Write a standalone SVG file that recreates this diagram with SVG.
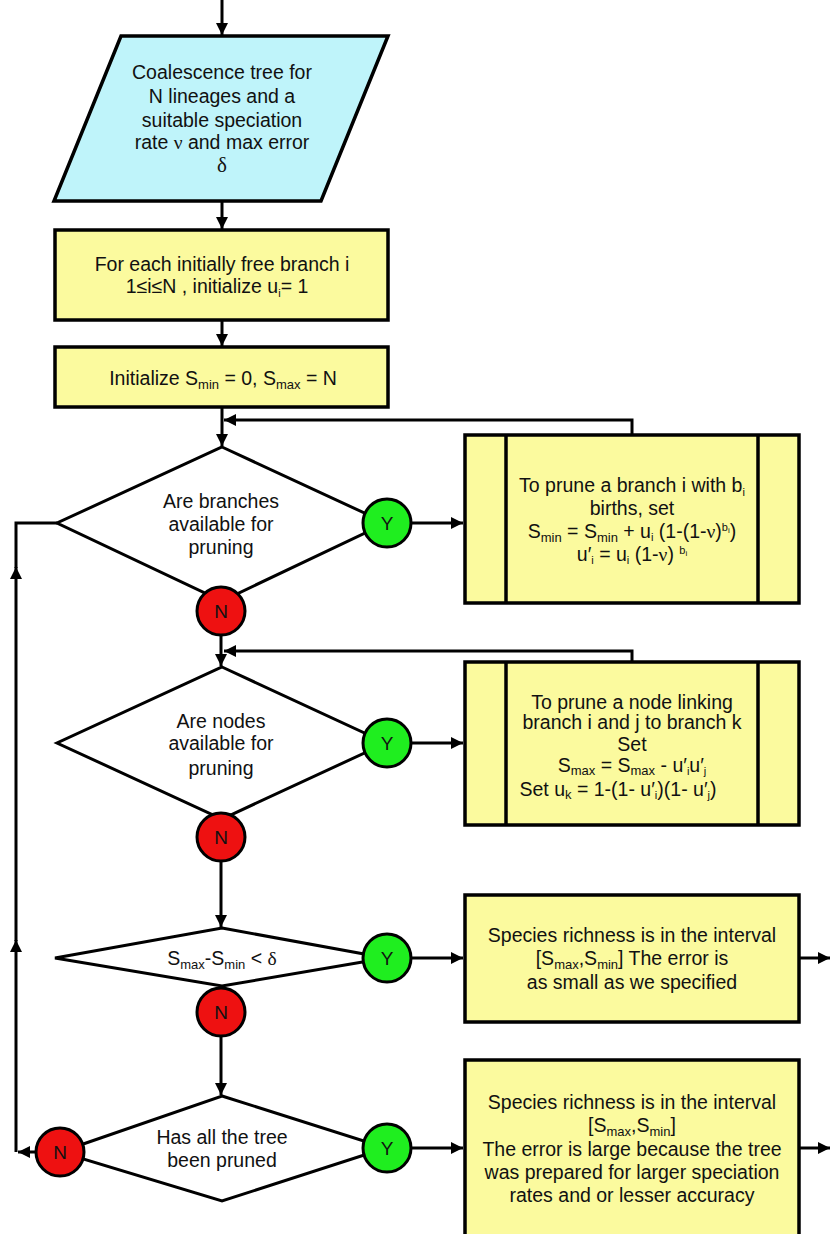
<svg xmlns="http://www.w3.org/2000/svg" width="830" height="1234" viewBox="0 0 830 1234">
<defs>
<marker id="ah" markerUnits="userSpaceOnUse" markerWidth="12" markerHeight="12" refX="12" refY="6" orient="auto">
<path d="M0,0 L12,6 L0,12 z" fill="#000"/>
</marker>
<style>
.t{font-family:"Liberation Sans",Arial,sans-serif;font-size:19.5px;fill:#111;text-anchor:middle}
.g{font-family:"Liberation Serif","Times New Roman",serif}
.s{font-size:13px}
.ss{font-size:11px}
.sss{font-size:8px}
.box{fill:#fbfa9e;stroke:#000;stroke-width:3.5}
.inp{fill:#bff4fa;stroke:#000;stroke-width:3.5}
.dia{fill:#fff;stroke:#000;stroke-width:3}
.yes{fill:#1fee1f;stroke:#000;stroke-width:3}
.no{fill:#ee1111;stroke:#000;stroke-width:3}
.ln{fill:none;stroke:#000;stroke-width:3}
.lbl{font-family:"Liberation Sans",Arial,sans-serif;font-size:19px;fill:#111;text-anchor:middle}
</style>
</defs>
<rect width="830" height="1234" fill="#fff"/>

<g id="connectors">
<path class="ln" d="M222,0 V35" marker-end="url(#ah)"/>
<path class="ln" d="M222,201 V229" marker-end="url(#ah)"/>
<path class="ln" d="M222,320 V346" marker-end="url(#ah)"/>
<path class="ln" d="M222,407 V446" marker-end="url(#ah)"/>
<path class="ln" d="M632,435 V420 H224" marker-end="url(#ah)"/>
<path class="ln" d="M411,523 H463" marker-end="url(#ah)"/>
<path class="ln" d="M221,636 V666" marker-end="url(#ah)"/>
<path class="ln" d="M632,662 V651 H224" marker-end="url(#ah)"/>
<path class="ln" d="M411,743 H463" marker-end="url(#ah)"/>
<path class="ln" d="M221,861 V927" marker-end="url(#ah)"/>
<path class="ln" d="M411,958 H463" marker-end="url(#ah)"/>
<path class="ln" d="M799,958 H830" marker-end="url(#ah)"/>
<path class="ln" d="M221,1036 V1095" marker-end="url(#ah)"/>
<path class="ln" d="M411,1148 H463" marker-end="url(#ah)"/>
<path class="ln" d="M799,1148 H830" marker-end="url(#ah)"/>
<path class="ln" d="M36,1152 H18" marker-end="url(#ah)"/>
<path class="ln" d="M16,1152 V940" marker-end="url(#ah)"/>
<path class="ln" d="M16,941 V567" marker-end="url(#ah)"/>
<path class="ln" d="M16,568 V523 H57"/>
</g>

<g id="input">
<polygon class="inp" points="121,36 388,36 321,201 54,201"/>
<text class="t" x="222" y="79">Coalescence tree for</text>
<text class="t" x="222" y="103">N lineages and a</text>
<text class="t" x="222" y="127">suitable speciation</text>
<text class="t" x="222" y="149">rate <tspan class="g">ν</tspan> and max error</text>
<text class="t g" x="222" y="172" style="font-size:21px">δ</text>
</g>

<g id="init-u">
<rect class="box" x="55" y="230" width="333" height="90"/>
<text class="t" x="222" y="271">For each initially free branch i</text>
<text class="t" x="217" y="293">1≤i≤N ,  initialize u<tspan class="ss" dy="4">i</tspan><tspan dy="-4">= 1</tspan></text>
</g>

<g id="init-s">
<rect class="box" x="55" y="347" width="333" height="60"/>
<text class="t" x="223" y="385">Initialize S<tspan class="s" dy="4">min</tspan><tspan dy="-4"> = 0, S</tspan><tspan class="s" dy="4">max</tspan><tspan dy="-4"> = N</tspan></text>
</g>

<g id="dec-branches">
<polygon class="dia" points="222,447 386,523 222,601 57,523"/>
<text class="t" x="221" y="508">Are branches</text>
<text class="t" x="221" y="531">available for</text>
<text class="t" x="221" y="554">pruning</text>
</g>

<g id="prune-branch">
<rect class="box" x="465" y="435" width="334" height="168"/>
<line class="ln" x1="506" y1="435" x2="506" y2="603" style="stroke-width:3.5"/>
<line class="ln" x1="758" y1="435" x2="758" y2="603" style="stroke-width:3.5"/>
<text class="t" x="632" y="492">To prune a branch i with b<tspan class="ss" dy="4">i</tspan></text>
<text class="t" x="632" y="515">births, set</text>
<text class="t" x="632" y="538">S<tspan class="s" dy="4">min</tspan><tspan dy="-4"> = S</tspan><tspan class="s" dy="4">min</tspan><tspan dy="-4"> + u</tspan><tspan class="ss" dy="3">i</tspan><tspan dy="-3"> (1-(1-</tspan><tspan class="g">ν</tspan>)<tspan class="ss" dy="-7">b</tspan><tspan class="sss" dy="2">i</tspan><tspan dy="5">)</tspan></text>
<text class="t" x="632" y="561">u′<tspan class="ss" dy="3">i</tspan><tspan dy="-3"> = u</tspan><tspan class="ss" dy="3">i</tspan><tspan dy="-3"> (1-</tspan><tspan class="g">ν</tspan>) <tspan class="ss" dy="-7">b</tspan><tspan class="sss" dy="2">i</tspan></text>
</g>

<g id="dec-nodes">
<polygon class="dia" points="222,667 386,743 222,819 57,743"/>
<text class="t" x="221" y="728">Are nodes</text>
<text class="t" x="221" y="750">available for</text>
<text class="t" x="221" y="775">pruning</text>
</g>

<g id="prune-node">
<rect class="box" x="465" y="662" width="334" height="163"/>
<line class="ln" x1="506" y1="662" x2="506" y2="825" style="stroke-width:3.5"/>
<line class="ln" x1="758" y1="662" x2="758" y2="825" style="stroke-width:3.5"/>
<text class="t" x="632" y="709">To prune a node linking</text>
<text class="t" x="632" y="729">branch i and j to branch k</text>
<text class="t" x="632" y="751">Set</text>
<text class="t" x="632" y="772">S<tspan class="s" dy="3">max</tspan><tspan dy="-3"> = S</tspan><tspan class="s" dy="3">max</tspan><tspan dy="-3"> - u′</tspan><tspan class="ss" dy="3">i</tspan><tspan dy="-3">u′</tspan><tspan class="ss" dy="3">j</tspan></text>
<text class="t" x="618" y="796">Set u<tspan class="s" dy="3">k</tspan><tspan dy="-3"> = 1-(1- u′</tspan><tspan class="ss" dy="3">i</tspan><tspan dy="-3">)(1- u′</tspan><tspan class="ss" dy="3">j</tspan><tspan dy="-3">)</tspan></text>
</g>

<g id="dec-error">
<polygon class="dia" points="222,928 386,958 222,986 55,958"/>
<text class="t" x="222" y="965">S<tspan class="s" dy="4">max</tspan><tspan dy="-4">-S</tspan><tspan class="s" dy="4">min</tspan><tspan dy="-4"> &lt; </tspan><tspan class="g">δ</tspan></text>
</g>

<g id="result-small">
<rect class="box" x="465" y="895" width="334" height="127"/>
<text class="t" x="632" y="942">Species richness is in the interval</text>
<text class="t" x="632" y="965">[S<tspan class="s" dy="4">max</tspan><tspan dy="-4">,S</tspan><tspan class="s" dy="4">min</tspan><tspan dy="-4">] The error is</tspan></text>
<text class="t" x="632" y="989">as small as we specified</text>
</g>

<g id="dec-tree">
<polygon class="dia" points="222,1096 386,1148 222,1201 60,1152"/>
<text class="t" x="222" y="1144">Has all the tree</text>
<text class="t" x="222" y="1167">been pruned</text>
</g>

<g id="result-large">
<rect class="box" x="465" y="1060" width="334" height="190"/>
<text class="t" x="632" y="1109">Species richness is in the interval</text>
<text class="t" x="632" y="1132">[S<tspan class="s" dy="4">max</tspan><tspan dy="-4">,S</tspan><tspan class="s" dy="4">min</tspan><tspan dy="-4">]</tspan></text>
<text class="t" x="632" y="1156">The error is large because the tree</text>
<text class="t" x="632" y="1179">was prepared for larger speciation</text>
<text class="t" x="632" y="1202">rates and or lesser accuracy</text>
</g>

<g id="y1"><circle class="yes" cx="387" cy="523" r="24"/><text class="lbl" x="387" y="530">Y</text></g>
<g id="n1"><circle class="no" cx="221" cy="611" r="24"/><text class="lbl" x="221" y="618">N</text></g>
<g id="y2"><circle class="yes" cx="387" cy="743" r="24"/><text class="lbl" x="387" y="750">Y</text></g>
<g id="n2"><circle class="no" cx="221" cy="837" r="24"/><text class="lbl" x="221" y="844">N</text></g>
<g id="y3"><circle class="yes" cx="387" cy="958" r="24"/><text class="lbl" x="387" y="965">Y</text></g>
<g id="n3"><circle class="no" cx="221" cy="1012" r="24"/><text class="lbl" x="221" y="1019">N</text></g>
<g id="y4"><circle class="yes" cx="387" cy="1148" r="24"/><text class="lbl" x="387" y="1155">Y</text></g>
<g id="n4"><circle class="no" cx="60" cy="1152" r="24"/><text class="lbl" x="60" y="1159">N</text></g>
</svg>
